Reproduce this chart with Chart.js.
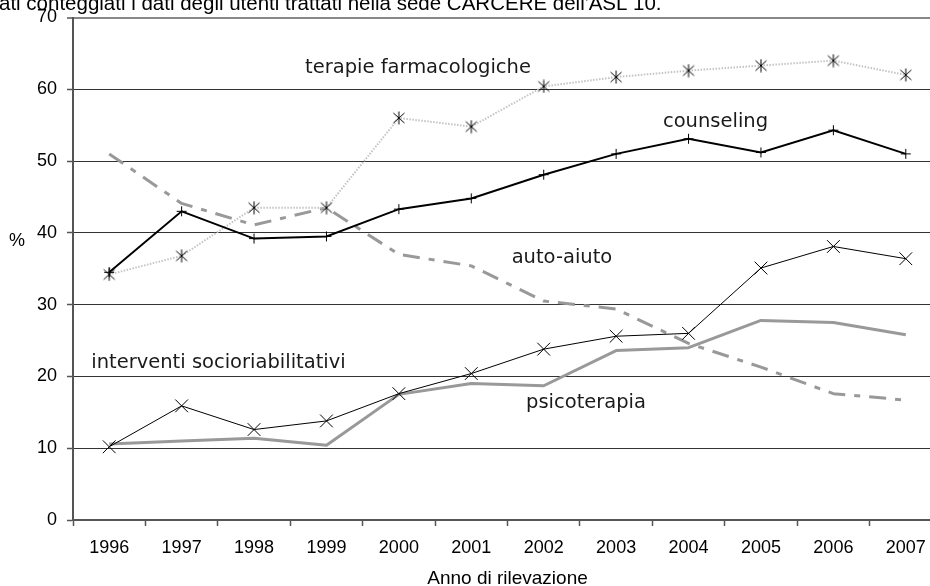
<!DOCTYPE html>
<html><head><meta charset="utf-8">
<script src="https://cdn.jsdelivr.net/npm/chart.js@4"></script>
<style>
html,body{margin:0;padding:0;background:#fff;overflow:hidden;width:930px;height:586px}
#wrap{position:absolute;left:0;top:0;width:930px;height:586px;overflow:hidden}
#c{position:absolute;left:0;top:0;width:942px;height:586px}
</style>
</head><body><div id="wrap"><canvas id="c" width="942" height="586"></canvas></div>
<script>
const years = ['1996','1997','1998','1999','2000','2001','2002','2003','2004','2005','2006','2007'];
const terapieFarmacologiche = [34.2, 36.8, 43.5, 43.5, 56.0, 54.8, 60.4, 61.7, 62.6, 63.3, 64.0, 62.0];
const counseling = [34.5, 43.0, 39.2, 39.5, 43.3, 44.8, 48.1, 51.0, 53.1, 51.2, 54.3, 51.0];
const autoAiuto = [51.0, 44.1, 41.1, 43.5, 37.0, 35.4, 30.5, 29.4, 24.6, 21.3, 17.6, 16.7];
const interventiSocioriabilitativi = [10.2, 15.9, 12.6, 13.8, 17.6, 20.4, 23.8, 25.6, 26.0, 35.1, 38.1, 36.4];
const psicoterapia = [10.6, 11.0, 11.4, 10.4, 17.5, 19.0, 18.7, 23.6, 24.0, 27.8, 27.5, 25.8];
const yTicks = [0, 10, 20, 30, 40, 50, 60, 70];
const noteText = "Sono stati conteggiati i dati degli utenti trattati nella sede CARCERE dell'ASL 10.";

const ast = document.createElement('canvas');
ast.width = 14; ast.height = 14;
(function(){
  const g = ast.getContext('2d');
  g.strokeStyle = '#000'; g.lineWidth = 1;
  g.beginPath();
  g.moveTo(1.5,2); g.lineTo(12.5,12);
  g.moveTo(12.5,2); g.lineTo(1.5,12);
  g.moveTo(7,0.5); g.lineTo(7,13.5);
  g.stroke();
})();

const SANS = '"Liberation Sans", Arial, sans-serif';
const LABF = '"DejaVu Sans", Verdana, sans-serif';

const textPlugin = {
  id: 'texts',
  afterDraw(chart, args, opts) {
    const ctx = chart.ctx;
    const xs = chart.scales.x, ys = chart.scales.y;
    ctx.save();
    ctx.fillStyle = '#000';
    ctx.font = '20.5px ' + SANS;
    ctx.textAlign = 'left'; ctx.textBaseline = 'alphabetic';
    const pre = ctx.measureText('Sono st').width;
    ctx.fillText(noteText, -pre - 1, 10);
    ctx.font = '18px ' + SANS;
    ctx.textAlign = 'center'; ctx.textBaseline = 'middle';
    ctx.fillText('%', 17, 241);
    ctx.font = '19.5px ' + LABF;
    ctx.fillStyle = '#1a1a1a';
    ctx.textBaseline = 'alphabetic';
    for (const l of opts.labels) {
      ctx.fillText(l.text, xs.getPixelForValue(l.i), ys.getPixelForValue(l.v));
    }
    ctx.restore();
  }
};

function noPad(s) { s.paddingTop = 0; s.paddingBottom = 0; s.paddingLeft = 0; s.paddingRight = 0; }

new Chart(document.getElementById('c'), {
  type: 'line',
  data: {
    labels: years,
    datasets: [
      { label: 'counseling', data: counseling, borderColor: '#000', borderWidth: 2,
        pointStyle: 'cross', pointRadius: 5, pointBorderWidth: 1, pointBorderColor: '#000', pointBackgroundColor: '#000' },
      { label: 'interventi socioriabilitativi', data: interventiSocioriabilitativi, borderColor: '#000', borderWidth: 1,
        pointStyle: 'crossRot', pointRadius: 9, pointBorderWidth: 1, pointBorderColor: '#000' },
      { label: 'terapie farmacologiche', data: terapieFarmacologiche, borderColor: '#c4c4c4', borderWidth: 2,
        borderDash: [1.5, 1.5], pointStyle: ast, pointRadius: 7 },
      { label: 'auto-aiuto', data: autoAiuto, borderColor: '#999', borderWidth: 3,
        borderDash: [17, 9, 6, 9], pointRadius: 0, borderJoinStyle: 'round' },
      { label: 'psicoterapia', data: psicoterapia, borderColor: '#999', borderWidth: 3,
        pointRadius: 0, borderJoinStyle: 'round' }
    ]
  },
  options: {
    responsive: false, maintainAspectRatio: false, animation: false,
    layout: { autoPadding: false, padding: { top: 17.5, left: 0, right: 0, bottom: 0 } },
    elements: { line: { tension: 0, fill: false } },
    plugins: {
      legend: { display: false }, tooltip: { enabled: false },
      texts: { labels: [
        { text: 'terapie farmacologiche', i: 4.264, v: 62.2 },
        { text: 'counseling', i: 8.372, v: 54.8 },
        { text: 'auto-aiuto', i: 6.252, v: 35.8 },
        { text: 'interventi socioriabilitativi', i: 1.509, v: 21.15 },
        { text: 'psicoterapia', i: 6.584, v: 15.6 }
      ] }
    },
    scales: {
      x: {
        offset: true,
        grid: { offset: true, drawOnChartArea: false, drawTicks: true, tickLength: 6, tickColor: '#555', tickWidth: 1.5 },
        border: { display: true, color: '#555', width: 2 },
        ticks: { color: '#000', font: { family: SANS, size: 18 }, padding: 11, maxRotation: 0, autoSkip: false },
        title: { display: true, text: 'Anno di rilevazione', color: '#000', font: { family: SANS, size: 19 }, padding: { top: 0, bottom: -4 } },
        afterFit(s) { s.height = 66; noPad(s); }
      },
      y: {
        min: 0, max: 70,
        afterBuildTicks(s) { s.ticks = yTicks.map(v => ({ value: v })); },
        ticks: { color: '#000', font: { family: SANS, size: 18 }, padding: 10 },
        grid: { color: c => (c.tick && c.tick.value === 70) ? '#888' : '#333',
                lineWidth: c => (c.tick && c.tick.value === 70) ? 2 : 1,
                tickLength: 6, tickColor: '#555', tickWidth: 1.5 },
        border: { color: '#555', width: 2 },
        afterFit(s) { s.width = 73; noPad(s); }
      }
    }
  },
  plugins: [textPlugin]
});
</script>
</body></html>
